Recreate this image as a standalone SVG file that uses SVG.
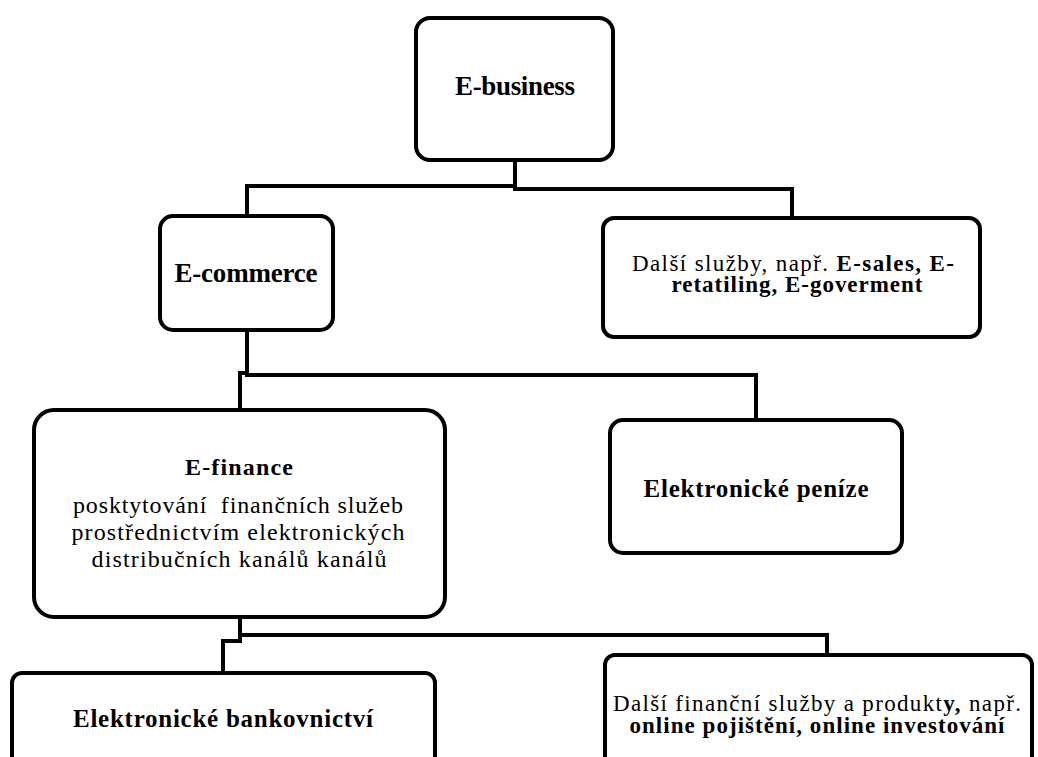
<svg xmlns="http://www.w3.org/2000/svg" width="1038" height="757" viewBox="0 0 1038 757">
  <style>
    .box { fill: #ffffff; stroke: #000000; stroke-width: 4; }
    .wire { fill: none; stroke: #000000; stroke-width: 4; stroke-linejoin: miter; stroke-linecap: square; }
    .t { fill: #000000; text-anchor: middle; }
    .b { font-weight: bold; }
  </style>
  <rect width="1038" height="757" fill="#ffffff"/>

  <!-- tree connectors -->
  <g id="connectors">
    <path class="wire" d="M515,160 V187"/>
    <path class="wire" d="M247,216 V186 H515"/>
    <path class="wire" d="M515,189 H792 V218"/>
    <path class="wire" d="M247,330 V373 H240 V410"/>
    <path class="wire" d="M247,375 H756 V420"/>
    <path class="wire" d="M240,617 V641 H223 V673"/>
    <path class="wire" d="M240,635 H827 V655"/>
  </g>

  <g id="e-business">
    <rect class="box" x="416" y="18" width="197" height="142" rx="14"/>
    <text class="t b" x="515" y="95" font-family="Liberation Serif, Times New Roman, serif" font-size="27" textLength="120">E-business</text>
  </g>

  <g id="e-commerce">
    <rect class="box" x="160" y="216" width="173" height="114" rx="13"/>
    <text class="t b" x="246" y="282" font-family="Liberation Serif, Times New Roman, serif" font-size="27" textLength="143">E-commerce</text>
  </g>

  <g id="dalsi-sluzby">
    <rect class="box" x="603" y="218" width="377" height="119" rx="11"/>
    <text class="t" x="793" y="271" font-family="Liberation Serif, Times New Roman, serif" font-size="23" textLength="322">Další služby, např. <tspan class="b">E-sales, E-</tspan></text>
    <text class="t b" x="797" y="292" font-family="Liberation Serif, Times New Roman, serif" font-size="23" textLength="251">retatiling, E-goverment</text>
  </g>

  <g id="e-finance">
    <rect class="box" x="34" y="410" width="411" height="207" rx="20"/>
    <text class="t b" x="239" y="475" font-family="Liberation Serif, Times New Roman, serif" font-size="24" textLength="108">E-finance</text>
    <text class="t" x="238" y="513" font-family="Liberation Serif, Times New Roman, serif" font-size="24" textLength="330" xml:space="preserve">posktytování  finančních služeb</text>
    <text class="t" x="238" y="540" font-family="Liberation Serif, Times New Roman, serif" font-size="24" textLength="333">prostřednictvím elektronických</text>
    <text class="t" x="239" y="567" font-family="Liberation Serif, Times New Roman, serif" font-size="24" textLength="295">distribučních kanálů kanálů</text>
  </g>

  <g id="elektronicke-penize">
    <rect class="box" x="610" y="420" width="292" height="133" rx="13"/>
    <text class="t b" x="756" y="497" font-family="Liberation Serif, Times New Roman, serif" font-size="25" textLength="225">Elektronické peníze</text>
  </g>

  <g id="elektronicke-bankovnictvi">
    <rect class="box" x="12" y="673" width="423" height="110" rx="10"/>
    <text class="t b" x="223" y="727" font-family="Liberation Serif, Times New Roman, serif" font-size="25" textLength="300">Elektronické bankovnictví</text>
  </g>

  <g id="dalsi-financni-sluzby">
    <rect class="box" x="605" y="655" width="427" height="128" rx="10"/>
    <text class="t" x="817" y="711" font-family="Liberation Serif, Times New Roman, serif" font-size="23" textLength="408">Další finanční služby a produkt<tspan class="b">y,</tspan> např.</text>
    <text class="t b" x="817" y="733" font-family="Liberation Serif, Times New Roman, serif" font-size="23" textLength="375">online pojištění, online investování</text>
  </g>
</svg>
